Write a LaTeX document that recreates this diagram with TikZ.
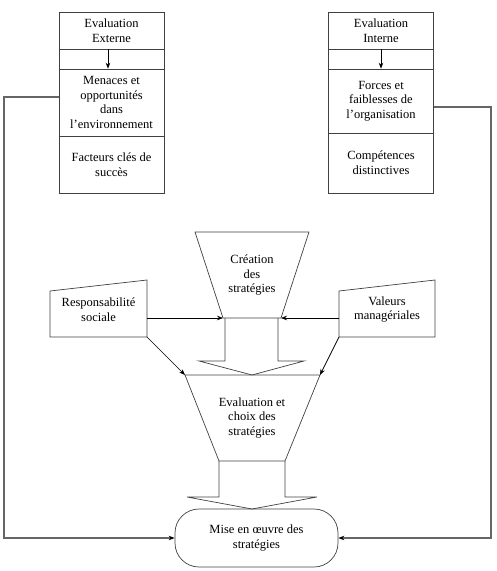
\documentclass[tikz,border=0pt]{standalone}
\usepackage{fontspec}
\setmainfont{Liberation Serif}
\usetikzlibrary{arrows.meta}
\begin{document}
\begin{tikzpicture}[x=1pt,y=-1pt,
  txt/.style={font=\fontsize{12.5}{14.6}\selectfont, align=center, inner sep=0pt, text=black},
  cell/.style={draw=black!75, line width=0.7pt, minimum width=105pt, inner sep=0pt, align=center,
    font=\fontsize{12.5}{14.6}\selectfont, text=black},
  shapeline/.style={draw=black!75, line width=0.7pt},
  arr/.style={draw=black, line width=0.7pt, -{Stealth[length=6pt,width=4.5pt]}},
  longline/.style={draw=black!60, line width=1.1pt},
  longarr/.style={draw=black!60, line width=1.1pt, -{Stealth[length=6pt,width=4.5pt,black]}}]
\useasboundingbox (0,0) rectangle (496,571);

% left column
\node[cell, minimum height=37pt] (ee) at (111.5,30.5) {Evaluation\\Externe};
\node[cell, minimum height=20pt] (ec) at (111.5,59) {};
\node[cell, minimum height=67pt] (me) at (111.5,102.5) {Menaces et\\opportunités\\dans\\l’environnement};
\node[cell, minimum height=57pt] (fc) at (111.5,164.5) {Facteurs clés de\\succès};
\draw[arr] ([xshift=-3.5pt]ee.south) -- ([xshift=-3.5pt]me.north);

% right column
\node[cell, minimum height=37pt] (ei) at (381,30.5) {Evaluation\\Interne};
\node[cell, minimum height=20pt] (ic) at (381,59) {};
\node[cell, minimum height=64pt] (fo) at (381,101) {Forces et\\faiblesses de\\l’organisation};
\node[cell, minimum height=60pt] (cd) at (381,163) {Compétences\\distinctives};
\draw[arr] (ei.south) -- (fo.north);

% Creation des strategies
\coordinate (c-tl) at (195,232); \coordinate (c-tr) at (309,232);
\coordinate (c-br) at (281,318); \coordinate (c-bl) at (223,318);
\draw[shapeline] (c-tl) -- (c-tr) -- (c-br) -- (c-bl) -- cycle;
\draw[shapeline] (225,318) -- (225,361) -- (199,361) -- (252,375) -- (304,361) -- (278,361) -- (278,318);
\node[txt] (cr) at (252,275) {Création\\des\\stratégies};

% Evaluation et choix
\coordinate (e-tl) at (185,375); \coordinate (e-tr) at (320,375);
\coordinate (e-br) at (285,461); \coordinate (e-bl) at (219,461);
\draw[shapeline] (e-tl) -- (e-tr) -- (e-br) -- (e-bl) -- cycle;
\draw[shapeline] (219,461) -- (219,497) -- (187,497) -- (252,509) -- (317,497) -- (285,497) -- (285,461);
\node[txt] (ev) at (252,418) {Evaluation et\\choix des\\stratégies};

% Responsabilite sociale
\coordinate (r-tl) at (50,291); \coordinate (r-tr) at (147,280);
\coordinate (r-br) at (147,337); \coordinate (r-bl) at (50,337);
\coordinate (r-e) at (147,318);
\draw[shapeline] (r-tl) -- (r-tr) -- (r-br) -- (r-bl) -- cycle;
\node[txt] (rs) at (98.5,310) {Responsabilité\\sociale};

% Valeurs manageriales
\coordinate (v-tl) at (339,291); \coordinate (v-tr) at (435,280);
\coordinate (v-br) at (435,337); \coordinate (v-bl) at (339,337);
\coordinate (v-w) at (339,318);
\draw[shapeline] (v-tl) -- (v-tr) -- (v-br) -- (v-bl) -- cycle;
\node[txt] (vm) at (387,309.5) {Valeurs\\managériales};

% arrows
\draw[arr] (r-e) -- (c-bl);
\draw[arr] (r-br) -- (e-tl);
\draw[arr] (v-w) -- (c-br);
\draw[arr] (v-bl) -- (e-tr);

% Mise en oeuvre
\node[draw=black!75, line width=0.7pt, rounded corners=24pt, minimum width=163pt, minimum height=58pt,
  txt, inner sep=0pt] (mo) at (256.5,538) {Mise en œuvre des\\stratégies};

% long lines
\coordinate (ll) at (4,300);
\coordinate (rr) at (491,300);
\draw[longarr] ([yshift=5.5pt]me.west) -| (ll) |- (mo.west);
\draw[longarr] ([yshift=-6pt]fo.east) -| (rr) |- (mo.east);
\end{tikzpicture}
\end{document}
